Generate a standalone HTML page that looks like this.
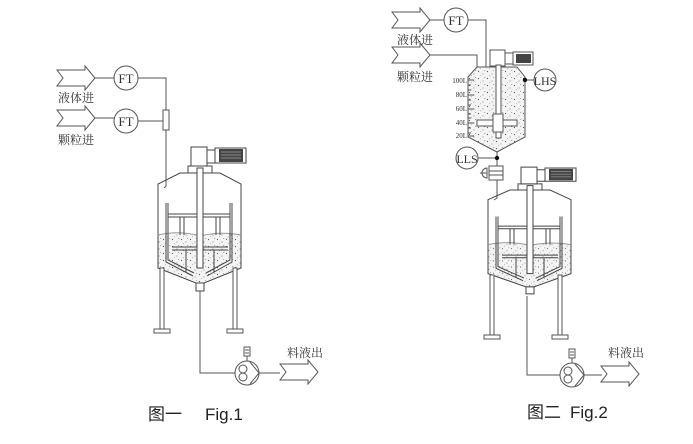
<!DOCTYPE html>
<html><head><meta charset="utf-8"><style>
html,body{margin:0;padding:0;background:#fff;}
svg{display:block}
text{font-family:"Liberation Serif","Noto Serif CJK SC",serif;fill:#333}
text.sans{font-family:"Liberation Sans","Noto Sans CJK SC",sans-serif;fill:#222}
</style></head><body>
<svg width="693" height="444" viewBox="0 0 693 444" xmlns="http://www.w3.org/2000/svg">
<defs>
<pattern id="dots" width="9" height="7" patternUnits="userSpaceOnUse">
<rect width="9" height="7" fill="#f4f4f4"/>
<circle cx="1.5" cy="1.5" r="0.6" fill="#555"/><circle cx="6" cy="4" r="0.5" fill="#666"/><circle cx="3.5" cy="5.8" r="0.4" fill="#777"/><rect x="7" y="0.5" width="1.2" height="0.5" fill="#666"/>
</pattern>
<g id="tank" fill="none" stroke="#444" stroke-width="1">
<path d="M158,235 Q180,230 200,236 Q220,231 241,235 L241,268 L200,283 L158,268 Z" fill="url(#dots)" stroke="none"/>
<path d="M180,173 L220,173 L241,184 L241,268 L204,283 L196,283 L158,268 L158,184 Z" vector-effect="non-scaling-stroke"/>
<path d="M158,235 Q180,230 200,236 Q220,231 241,235" stroke="#999" vector-effect="non-scaling-stroke"/>
<rect x="196" y="283" width="8" height="8" fill="#fff" vector-effect="non-scaling-stroke"/>
<rect x="188" y="166" width="24" height="7" fill="#fff" vector-effect="non-scaling-stroke"/>
<rect x="191" y="147" width="16" height="19" fill="#fff" vector-effect="non-scaling-stroke"/>
<rect x="207" y="150" width="8" height="13" fill="#fff" vector-effect="non-scaling-stroke"/>
<rect x="215" y="148" width="31" height="15" fill="#fff" vector-effect="non-scaling-stroke"/>
<rect x="219" y="149" width="24" height="13" fill="#444" stroke="none"/>
<path d="M221,152h20M221,155h20M221,158h20" stroke="#888"/>
<path d="M166,203 L166,262 L193,276 M168,203 L168,260 L194,273 M232,203 L232,262 L207,276 M230,203 L230,260 L206,273" vector-effect="non-scaling-stroke"/>
<path d="M168,214 H230 M168,217 H230 M180,217 V235 M184,217 V235 M216,217 V235 M220,217 V235 M172,247 H228 M172,250 H228 M186,250 V272 M214,250 V272" vector-effect="non-scaling-stroke"/>
<rect x="197" y="168" width="6" height="100" fill="#fff" vector-effect="non-scaling-stroke"/>
</g>
<g id="inarrow" fill="#fff" stroke="#555" stroke-width="1">
<path d="M0,0 H28 V-4 L38,8 L28,20 V16 H0 L6,8 Z"/>
</g>
<g id="pump" fill="#fff" stroke="#555" stroke-width="1">
<circle cx="0" cy="0" r="12"/>
<circle cx="-4" cy="-4" r="4"/><circle cx="-4" cy="4" r="4"/>
<path d="M3,-11 L12,0 L3,11"/>
<rect x="-3" y="-26" width="6" height="9"/><path d="M-2,-23h4M-2,-20h4M0,-17v5"/>
</g>
</defs>

<!-- Fig 1 -->
<use href="#inarrow" x="57" y="70"/>
<use href="#inarrow" x="57" y="110"/>
<g fill="none" stroke="#555">
<line x1="95" y1="78" x2="114" y2="78"/><line x1="95" y1="118" x2="114" y2="118"/>
<circle cx="126" cy="78" r="12" fill="#fff"/><circle cx="126" cy="121" r="12" fill="#fff"/>
<polyline points="138,78 166,78 166,110"/><line x1="138" y1="121" x2="163" y2="121"/>
<rect x="163" y="110" width="6" height="20" fill="#fff"/>
<polyline points="166,130 166,186 164,188"/>
</g>
<text x="126" y="83" font-size="13" text-anchor="middle">FT</text>
<text x="126" y="126" font-size="13" text-anchor="middle">FT</text>
<text x="58" y="102" font-size="12">液体进</text>
<text x="58" y="144" font-size="12">颗粒进</text>
<use href="#tank"/>
<g fill="#fff" stroke="#555">
<rect x="160" y="268" width="4" height="62"/><rect x="233" y="268" width="4" height="62"/>
<rect x="154" y="329" width="16" height="4"/><rect x="227" y="329" width="16" height="4"/>
<polyline fill="none" points="200,291 200,373 235,373"/>
<line x1="259" y1="373" x2="280" y2="373"/>
</g>
<use href="#pump" x="247" y="373"/>
<use href="#inarrow" x="280" y="364"/>
<text x="287" y="357" font-size="12">料液出</text>
<text class="sans" x="148" y="420" font-size="17">图一</text>
<text class="sans" x="205" y="420" font-size="17">Fig.1</text>

<!-- Fig 2 top -->
<use href="#inarrow" x="392" y="12"/>
<use href="#inarrow" x="392" y="47"/>
<g fill="none" stroke="#555">
<line x1="430" y1="20" x2="444" y2="20"/>
<circle cx="456" cy="20" r="12" fill="#fff"/>
<polyline points="468,20 486,20 486,67"/>
<polyline points="430,55 477,55 477,67"/>
<path d="M477,67 L517,67 L525,77 L525,137 L497,152 L468,137 L468,77 Z" fill="url(#dots)"/>
<rect x="490" y="50" width="15" height="16" fill="#fff"/><rect x="505" y="53" width="8" height="11" fill="#fff"/>
<rect x="513" y="52" width="20" height="13" fill="#fff"/>
<rect x="496" y="65" width="5" height="73" fill="#fff"/>
<rect x="477" y="120" width="40" height="6" fill="#fff"/>
<rect x="493" y="114" width="10" height="18" fill="#fff"/>
<path d="M468,80h6M468,85h3M468,90h3M468,95h6M468,100h3M468,105h3M468,109h6M468,114h3M468,118h3M468,123h6M468,128h3M468,133h3M468,136h6"/>
<line x1="525" y1="80" x2="534" y2="80"/>
<circle cx="545" cy="80" r="11" fill="#fff"/>
<line x1="478" y1="158" x2="497" y2="158"/><line x1="497" y1="152" x2="497" y2="166"/>
<circle cx="467" cy="158" r="11" fill="#fff"/>
<rect x="489" y="166" width="14" height="14" fill="#fff"/><path d="M489,171h14M489,175h14"/>
<path d="M487,168 A5,5 0 0 0 487,178 Z" fill="#fff"/><line x1="480" y1="173" x2="487" y2="173"/>
<polyline points="497,180 497,198 494,200"/>
</g>
<rect x="516" y="54" width="15" height="9" fill="#444"/>
<circle cx="525" cy="80" r="2.2" fill="#111"/><circle cx="497" cy="158" r="2.2" fill="#111"/>
<text x="456" y="25" font-size="13" text-anchor="middle">FT</text>
<text x="545" y="85" font-size="12" text-anchor="middle">LHS</text>
<text x="467" y="163" font-size="12" text-anchor="middle">LLS</text>
<text x="397" y="44" font-size="12">液体进</text>
<text x="397" y="81" font-size="12">颗粒进</text>
<g font-size="7" text-anchor="end"><text x="467" y="83">100L</text><text x="467" y="97">80L</text><text x="467" y="111">60L</text><text x="467" y="125">40L</text><text x="467" y="138">20L</text></g>

<!-- Fig 2 bottom tank -->
<g transform="translate(330,37.8) scale(1,0.88)"><use href="#tank"/></g>
<g fill="#fff" stroke="#555">
<rect x="490" y="275" width="4" height="60"/><rect x="558" y="275" width="4" height="60"/>
<rect x="484" y="335" width="16" height="4"/><rect x="552" y="335" width="16" height="4"/>
<polyline fill="none" points="527,296 527,375 560,375"/>
<line x1="584" y1="375" x2="602" y2="375"/>
</g>
<use href="#pump" x="572" y="375"/>
<use href="#inarrow" x="601" y="366"/>
<text x="608" y="357" font-size="12">料液出</text>
<text class="sans" x="527" y="418" font-size="17">图二</text>
<text class="sans" x="570" y="418" font-size="17">Fig.2</text>
</svg>
</body></html>
